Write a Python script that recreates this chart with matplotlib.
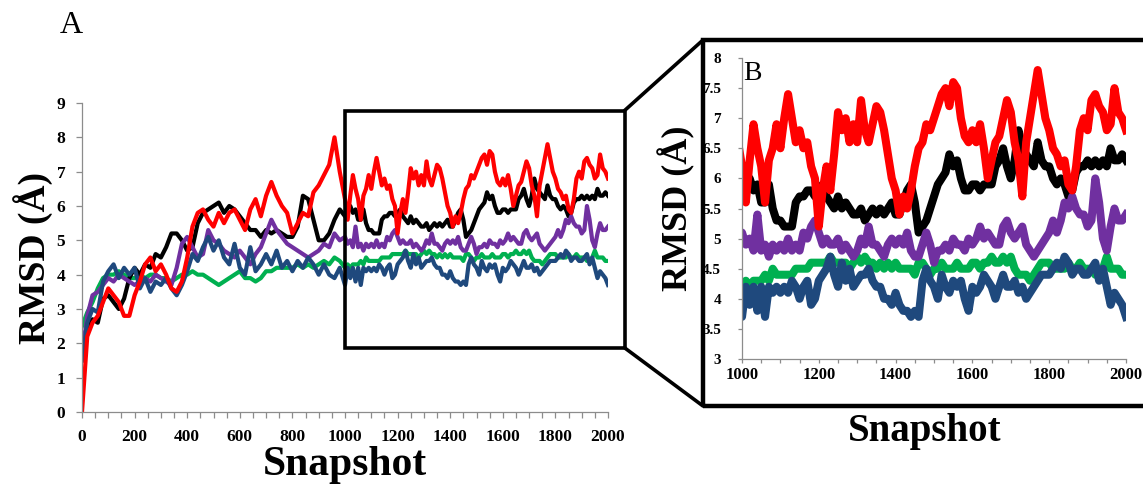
import matplotlib
matplotlib.use('Agg')
import matplotlib.pyplot as plt
from matplotlib.patches import Rectangle, ConnectionPatch
from matplotlib.ticker import MultipleLocator

plt.rcParams['font.family'] = ['Liberation Serif', 'DejaVu Serif']

# Snapshot positions: every 20 up to 1000, then every 10
snapshot = list(range(0, 1000, 20)) + list(range(1000, 2001, 10))

# RMSD values (Angstrom)
rmsd_black = [2.0, 2.5, 2.7, 2.6, 3.3, 3.4, 3.2, 3.0, 3.3, 3.9,
              4.2, 4.0, 4.3, 4.2, 4.6, 4.5, 4.8, 5.2, 5.2, 5.0,
              4.7, 4.8, 5.5, 5.8, 5.9, 6.0, 6.1, 5.8, 6.0, 5.9,
              5.7, 5.5, 5.3, 5.3, 5.1, 5.3, 5.2, 5.3, 5.2, 5.1,
              5.1, 5.4, 6.3, 6.2, 5.6, 5.0, 5.0, 5.2, 5.6, 5.9,
              5.7, 5.9, 6.0, 5.8, 5.9, 5.6, 5.6, 5.9, 5.5, 5.3,
              5.3, 5.2, 5.2, 5.2, 5.6, 5.7, 5.7, 5.8, 5.8, 5.7,
              5.8, 5.9, 5.7, 5.6, 5.5, 5.7, 5.5, 5.6, 5.5, 5.4,
              5.4, 5.5, 5.3, 5.4, 5.5, 5.4, 5.5, 5.4, 5.5, 5.6,
              5.4, 5.4, 5.6, 5.8, 5.9, 5.6, 5.1, 5.2, 5.3, 5.5,
              5.7, 5.9, 6.0, 6.1, 6.4, 6.2, 6.3, 6.0, 5.8, 5.8,
              5.9, 5.9, 5.8, 5.9, 5.9, 5.9, 6.2, 6.3, 6.5, 6.2,
              6.0, 6.3, 6.8, 6.5, 6.4, 6.3, 6.2, 6.6, 6.3, 6.2,
              6.2, 6.0, 5.9, 6.0, 5.9, 5.7, 5.8, 6.1, 6.2, 6.2,
              6.3, 6.2, 6.3, 6.2, 6.3, 6.2, 6.5, 6.3, 6.3, 6.4,
              6.3]
rmsd_red = [0.0, 2.2, 2.6, 2.8, 3.2, 3.6, 3.4, 3.2, 2.8, 2.8,
            3.4, 3.8, 4.3, 4.5, 4.1, 4.3, 4.0, 3.6, 3.5, 3.8,
            4.5, 5.4, 5.8, 5.9, 5.6, 5.4, 5.8, 5.5, 5.8, 5.9,
            5.6, 5.3, 5.9, 6.2, 5.7, 6.3, 6.7, 6.3, 6.0, 5.8,
            5.2, 5.5, 5.8, 5.7, 6.4, 6.6, 6.9, 7.2, 8.0, 7.0,
            6.2, 5.6, 6.3, 6.9, 6.5, 6.2, 5.6, 6.3, 6.5, 6.9,
            6.5, 7.0, 7.4, 7.0, 6.6, 6.8, 6.5, 6.6, 6.2, 6.0,
            5.2, 5.8, 6.2, 5.8, 6.4, 7.1, 6.8, 7.0, 6.6, 6.9,
            6.6, 7.3, 6.8, 6.6, 6.9, 7.2, 7.1, 6.8, 6.4, 6.0,
            5.8, 5.4, 5.7, 5.5, 5.8, 6.2, 6.5, 6.6, 6.9, 6.8,
            7.0, 7.2, 7.4, 7.5, 7.2, 7.6, 7.5, 7.0, 6.7, 6.6,
            6.8, 6.6, 6.9, 6.5, 6.0, 6.3, 6.6, 6.7, 7.0, 7.3,
            7.1, 6.6, 6.3, 5.7, 6.6, 7.0, 7.4, 7.8, 7.4, 7.0,
            6.8, 6.5, 6.4, 6.2, 6.3, 5.9, 5.8, 6.2, 6.8, 7.0,
            6.8, 7.3, 7.4, 7.2, 7.1, 6.8, 6.9, 7.5, 7.1, 7.0,
            6.8]
rmsd_purple = [1.6, 2.8, 3.4, 3.5, 3.7, 3.9, 3.8, 4.0, 3.9, 3.8,
               3.7, 3.8, 3.9, 3.8, 4.0, 3.9, 3.8, 3.7, 4.2, 4.9,
               5.1, 4.8, 4.5, 4.6, 5.3, 5.0, 4.9, 4.7, 4.6, 4.5,
               4.7, 4.5, 4.3, 4.6, 4.8, 5.2, 5.6, 5.3, 5.1, 4.9,
               4.8, 4.7, 4.6, 4.5, 4.6, 4.7, 4.9, 4.8, 5.2, 5.0,
               5.1, 4.9, 5.0, 4.8, 5.4, 4.8, 4.9, 4.7, 4.9, 4.8,
               4.9, 4.8, 5.0, 4.8, 4.9, 4.8, 5.1, 5.0, 5.2, 5.3,
               5.1, 4.9, 5.0, 4.9, 4.9, 5.0, 4.8, 4.9, 4.8, 4.7,
               4.8, 5.0, 4.9, 5.2, 4.9, 4.9, 4.8, 4.7, 4.9, 5.0,
               4.9, 5.0, 4.9, 5.1, 4.8, 4.7, 4.7, 4.9, 5.1, 4.9,
               4.6, 4.8, 4.8, 4.9, 4.8, 5.0, 4.9, 4.9, 4.8, 5.0,
               4.9, 5.0, 5.2, 5.0, 5.1, 5.0, 4.9, 4.9, 5.2, 5.3,
               5.1, 5.0, 5.1, 5.2, 4.9, 4.8, 4.7, 4.8, 4.9, 5.0,
               5.1, 5.3, 5.1, 5.3, 5.6, 5.5, 5.7, 5.5, 5.4, 5.4,
               5.2, 5.3, 6.0, 5.6, 5.0, 4.8, 5.2, 5.5, 5.3, 5.3,
               5.4]
rmsd_green = [2.5, 2.9, 3.2, 3.6, 3.9, 4.0, 4.0, 4.1, 4.0, 3.9,
              3.9, 4.0, 3.9, 4.0, 4.0, 3.9, 3.9, 3.8, 3.9, 4.0,
              4.0, 4.1, 4.0, 4.0, 3.9, 3.8, 3.7, 3.8, 3.9, 4.0,
              4.1, 3.9, 3.9, 3.8, 3.9, 4.1, 4.1, 4.2, 4.2, 4.2,
              4.2, 4.3, 4.2, 4.3, 4.2, 4.3, 4.4, 4.3, 4.5, 4.4,
              4.2, 4.3, 4.2, 4.3, 4.3, 4.3, 4.4, 4.3, 4.5, 4.4,
              4.4, 4.4, 4.4, 4.4, 4.5, 4.5, 4.5, 4.5, 4.6, 4.6,
              4.6, 4.6, 4.6, 4.7, 4.6, 4.6, 4.6, 4.6, 4.5, 4.6,
              4.7, 4.6, 4.7, 4.6, 4.6, 4.5, 4.6, 4.5, 4.6, 4.5,
              4.6, 4.5, 4.5, 4.5, 4.5, 4.4, 4.6, 4.6, 4.5, 4.4,
              4.5, 4.5, 4.6, 4.5, 4.5, 4.5, 4.6, 4.5, 4.5, 4.5,
              4.6, 4.6, 4.5, 4.6, 4.6, 4.7, 4.6, 4.6, 4.7, 4.6,
              4.7, 4.5, 4.4, 4.4, 4.4, 4.3, 4.4, 4.5, 4.6, 4.6,
              4.6, 4.5, 4.5, 4.5, 4.5, 4.6, 4.5, 4.5, 4.6, 4.5,
              4.5, 4.5, 4.4, 4.4, 4.5, 4.7, 4.5, 4.5, 4.5, 4.4,
              4.4]
rmsd_blue = [1.5, 2.6, 3.0, 2.9, 3.8, 4.1, 4.3, 3.9, 4.2, 4.0,
             4.2, 3.6, 3.9, 3.5, 3.8, 3.7, 3.9, 3.6, 3.4, 3.7,
             4.1, 4.6, 4.4, 4.8, 5.1, 4.7, 5.0, 4.5, 4.3, 4.9,
             4.2, 4.0, 4.8, 4.1, 4.3, 4.6, 4.3, 4.7, 4.2, 4.4,
             4.1, 4.4, 4.2, 4.5, 4.3, 4.0, 4.3, 4.0, 3.9, 4.2,
             3.7, 4.2, 3.9, 4.2, 3.8, 4.2, 3.7, 4.2, 4.1, 4.2,
             4.1, 4.2, 4.1, 4.3, 4.2, 4.0, 4.2, 4.3, 3.9, 4.0,
             4.3, 4.4, 4.5, 4.7, 4.4, 4.2, 4.6, 4.3, 4.5, 4.2,
             4.3, 4.4, 4.4, 4.5, 4.3, 4.2, 4.2, 4.0, 4.0, 3.9,
             4.1, 3.9, 3.8, 3.8, 3.7, 3.8, 3.7, 4.3, 4.5, 4.3,
             4.2, 4.0, 4.4, 4.2, 4.1, 4.3, 4.2, 4.3, 4.0, 3.8,
             4.2, 4.1, 4.2, 4.4, 4.3, 4.2, 4.0, 4.2, 4.4, 4.2,
             4.2, 4.3, 4.1, 4.2, 4.0, 4.1, 4.2, 4.3, 4.4, 4.4,
             4.4, 4.5, 4.6, 4.5, 4.7, 4.6, 4.4, 4.5, 4.5, 4.4,
             4.4, 4.5, 4.6, 4.3, 4.5, 4.2, 3.9, 4.1, 4.0, 3.9,
             3.7]

# drawing order bottom -> top
series = [(rmsd_green, '#00b050'), (rmsd_black, '#000000'),
          (rmsd_purple, '#7030a0'), (rmsd_blue, '#1f497d'),
          (rmsd_red, '#ff0000')]

W, H = 1143, 493
fig = plt.figure(figsize=(W / 100, H / 100), dpi=100)

def px(x0, y0, x1, y1):
    # pixel box (top-left origin) -> figure fraction rect
    return [x0 / W, 1 - y1 / H, (x1 - x0) / W, (y1 - y0) / H]

axA = fig.add_axes(px(82, 103, 608, 412))
axB = fig.add_axes(px(742, 58, 1126, 359))

for ax, lw in ((axA, 3.0), (axB, 5.8)):
    for vals, col in series:
        ax.plot(snapshot, vals, color=col, lw=lw, solid_joinstyle='round')
    for s in ('top', 'right'):
        ax.spines[s].set_visible(False)
    for s in ('left', 'bottom'):
        ax.spines[s].set_color('#8c8c8c')
        ax.spines[s].set_linewidth(0.9)
    ax.xaxis.set_minor_locator(MultipleLocator(50))
    ax.tick_params(which='both', direction='out', color='#8c8c8c', width=0.9)

axA.set_xlim(0, 2000)
axA.set_ylim(0, 9)
axA.xaxis.set_major_locator(MultipleLocator(200))
axA.yaxis.set_major_locator(MultipleLocator(1))
axA.tick_params(which='both', length=4)
axA.tick_params(axis='x', pad=8, labelsize=12.5)
axA.tick_params(axis='y', pad=8, labelsize=12.5)

axB.set_xlim(1000, 2000)
axB.set_ylim(3, 8)
axB.xaxis.set_major_locator(MultipleLocator(200))
axB.yaxis.set_major_locator(MultipleLocator(0.5))
axB.yaxis.set_major_formatter(lambda v, p: f'{v:g}')
axB.tick_params(which='both', length=3)
axB.tick_params(axis='x', pad=3, labelsize=12)
axB.tick_params(axis='y', pad=12, labelsize=11)

for ax in (axA, axB):
    for lab in ax.get_xticklabels() + ax.get_yticklabels():
        lab.set_fontweight('bold')

# zoom box on panel A and the frame around panel B
box = Rectangle((1000, 1.87), 1063, 6.91, fill=False, ec='black', lw=2.6,
                clip_on=False, zorder=5)
axA.add_patch(box)

frame = Rectangle((703 / W, 1 - 406 / H), 0.5, (406 - 40) / H, fill=False,
                  ec='black', lw=3.2, transform=fig.transFigure, zorder=10)
fig.add_artist(frame)

for yA, yB in ((8.78, 1 - 40 / H), (1.87, 1 - 406 / H)):
    con = ConnectionPatch(xyA=(2063, yA), coordsA=axA.transData,
                          xyB=(703 / W, yB), coordsB='figure fraction',
                          color='black', lw=2.6, zorder=10)
    fig.add_artist(con)

# labels
fig.text(33 / W, 1 - 258 / H, 'RMSD (Å)', rotation=90, ha='center', va='center',
         fontsize=27, fontweight='bold')
fig.text(345 / W, 1 - 446 / H, 'Snapshot', ha='center', va='top',
         fontsize=30, fontweight='bold')
fig.text(677 / W, 1 - 208 / H, 'RMSD (Å)', rotation=90, ha='center', va='center',
         fontsize=26, fontweight='bold')
fig.text(925 / W, 1 - 413 / H, 'Snapshot', ha='center', va='top',
         fontsize=28, fontweight='bold')
fig.text(60 / W, 1 - 33 / H, 'A', ha='left', va='baseline', fontsize=23)
fig.text(743 / W, 1 - 80 / H, 'B', ha='left', va='baseline', fontsize=20)

fig.savefig('out.png', dpi=100)
